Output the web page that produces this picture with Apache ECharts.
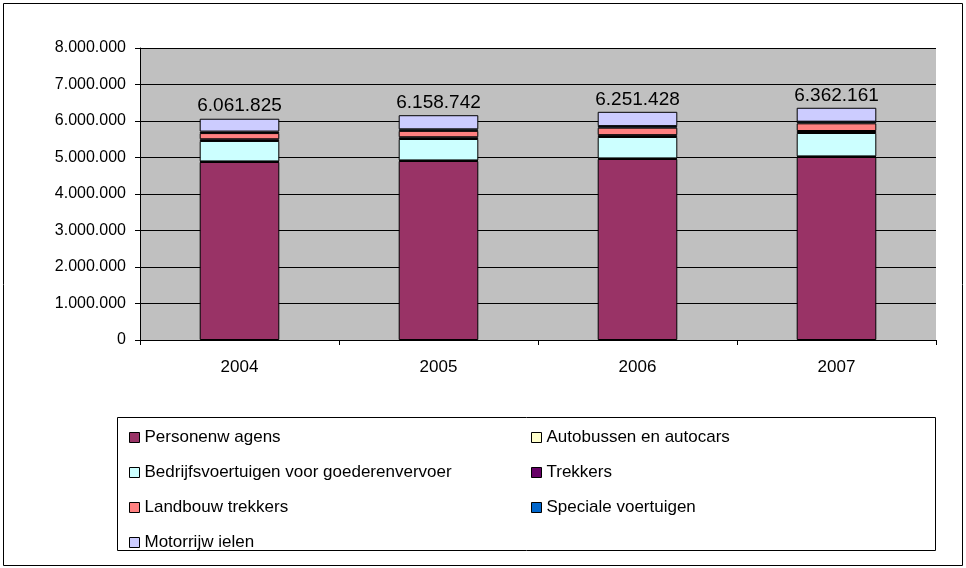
<!DOCTYPE html>
<html>
<head>
<meta charset="utf-8">
<script src="https://cdn.jsdelivr.net/npm/echarts@6/dist/echarts.min.js"></script>
<style>
  html, body { margin: 0; padding: 0; background: #fff; }
  #chart { width: 966px; height: 568px; }
</style>
</head>
<body>
<div id="chart"></div>
<script>
const years = ['2004', '2005', '2006', '2007']
const seriesNames = [
  'Personenw agens',
  'Autobussen en autocars',
  'Bedrijfsvoertuigen voor goederenvervoer',
  'Trekkers',
  'Landbouw trekkers',
  'Speciale voertuigen',
  'Motorrijw ielen'
]
const personenwagens = [4877000, 4904000, 4959000, 5014000]
const autobussen = [15500, 15700, 15800, 16000]
const bedrijfsvoertuigen = [560000, 587000, 587000, 641000]
const trekkers = [47000, 48000, 50000, 55000]
const landbouwtrekkers = [170000, 175000, 205000, 210000]
const speciale = [41000, 42000, 43000, 45000]
const motorrijwielen = [351325, 387042, 391628, 381161]
const totals = [6061825, 6158742, 6251428, 6362161]
const yTicks = [0, 1000000, 2000000, 3000000, 4000000, 5000000, 6000000, 7000000, 8000000]

const colors = ['#993366', '#FFFFCC', '#CCFFFF', '#660066', '#FF8080', '#0066CC', '#CCCCFF']
const values = [personenwagens, autobussen, bedrijfsvoertuigen, trekkers, landbouwtrekkers, speciale, motorrijwielen]
const font = 'Liberation Sans, Arial, sans-serif'

// 1234567 -> 1.234.567
function dots(v) {
  return String(v).replace(/\B(?=(\d{3})+(?!\d))/g, '.')
}

const series = seriesNames.map((name, i) => {
  const s = {
    name: name,
    type: 'bar',
    stack: 'totaal',
    barWidth: '40%',
    data: values[i],
    itemStyle: { color: colors[i], borderColor: '#000', borderWidth: 1 },
    emphasis: { disabled: true }
  }
  if (i === seriesNames.length - 1) {
    s.label = {
      show: true,
      position: 'top',
      distance: 3,
      color: '#000',
      fontFamily: font,
      fontSize: 19,
      formatter: (p) => dots(totals[p.dataIndex])
    }
  }
  return s
})

const legendText = { color: '#000', fontFamily: font, fontSize: 17 }
const legendBase = {
  orient: 'vertical',
  top: 424,
  itemWidth: 10,
  itemHeight: 10,
  itemGap: 18,
  icon: 'rect',
  textStyle: legendText,
  selectedMode: false,
  itemStyle: { borderColor: '#000', borderWidth: 1 }
}

const option = {
  animation: false,
  color: colors,
  grid: { left: 140, right: 30, top: 48, bottom: 228, show: true, backgroundColor: '#C0C0C0', borderWidth: 0 },
  xAxis: {
    type: 'category',
    data: years,
    axisLine: { lineStyle: { color: '#000' } },
    axisTick: { show: true, length: 5, lineStyle: { color: '#000' } },
    axisLabel: { color: '#000', fontFamily: font, fontSize: 17, margin: 19 }
  },
  yAxis: {
    type: 'value',
    min: yTicks[0],
    max: yTicks[yTicks.length - 1],
    interval: yTicks[1] - yTicks[0],
    axisLine: { show: true, lineStyle: { color: '#000' } },
    axisTick: { show: true, length: 5, lineStyle: { color: '#000' } },
    splitLine: { lineStyle: { color: '#000', width: 1 } },
    axisLabel: { color: '#000', fontFamily: font, fontSize: 16, margin: 14, formatter: (v) => dots(v) }
  },
  legend: [
    Object.assign({}, legendBase, {
      left: 124,
      data: [seriesNames[0], seriesNames[2], seriesNames[4], seriesNames[6]]
    }),
    Object.assign({}, legendBase, {
      left: 526,
      data: [seriesNames[1], seriesNames[3], seriesNames[5]]
    })
  ],
  graphic: [
    {
      type: 'rect',
      shape: { x: 3.5, y: 3.5, width: 959, height: 562 },
      style: { fill: 'none', stroke: '#000', lineWidth: 1 },
      z: -1
    },
    {
      type: 'rect',
      shape: { x: 117.5, y: 417.5, width: 818, height: 133 },
      style: { fill: '#fff', stroke: '#000', lineWidth: 1 },
      z: -1
    }
  ],
  series: series
}

const myChart = echarts.init(document.getElementById('chart'))
option && myChart.setOption(option)
</script>
</body>
</html>
